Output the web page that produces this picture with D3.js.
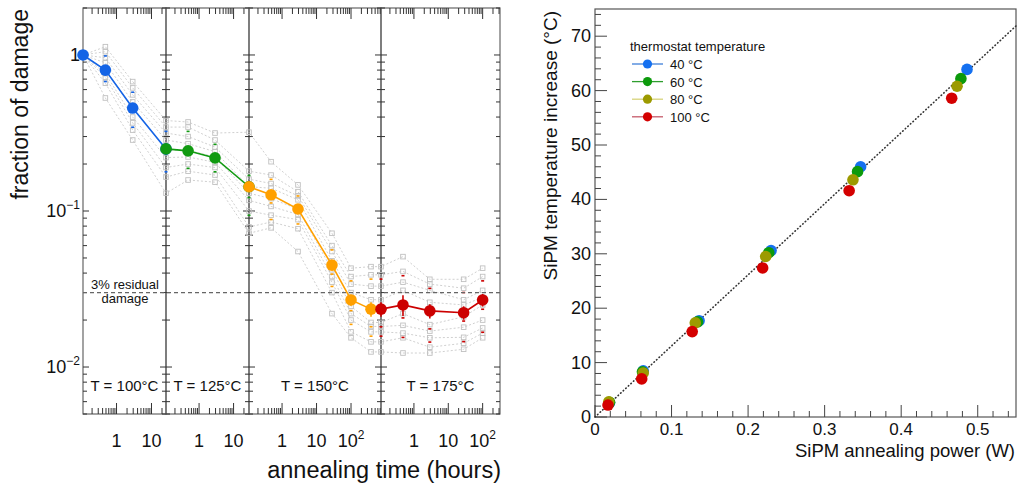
<!DOCTYPE html>
<html><head><meta charset="utf-8">
<script src="https://cdn.jsdelivr.net/npm/d3@7"></script>
<style>
body{margin:0;background:#fff}
svg{display:block}
text{font-family:"Liberation Sans",Arial,Helvetica,sans-serif;fill:#111}
</style>
</head><body>
<svg id="c" width="1017" height="490"></svg>
<script>
// ---------------- LEFT CHART DATA ----------------
const panelLabels = ["T = 100°C", "T = 125°C", "T = 150°C", "T = 175°C"];
const panelTimeMin = [0.11, 0.11, 0.11, 0.11];
const panelTimeMax = [26, 28, 740, 320];
const panelTickValues = [[1, 10], [1, 10], [1, 10, 100], [1, 10, 100]];
const yDomainLeft = [0.005, 2];
const yTickValuesLeft = [1, 0.1, 0.01];
const residualLevel = 0.03;

const blueTimes = [0.11, 0.48, 2.9, 26];
const blueMeans = [1.0, 0.80, 0.457, 0.25];
const blueErrs = [0.01, 0.03, 0.02, 0.01];
const greenTimes = [0.11, 0.48, 2.9, 28];
const greenMeans = [0.25, 0.243, 0.219, 0.143];
const greenErrs = [0.01, 0.01, 0.01, 0.008];
const orangeTimes = [0.11, 0.48, 2.9, 28, 100, 380];
const orangeMeans = [0.143, 0.127, 0.103, 0.045, 0.0269, 0.0235];
const orangeErrs = [0.005, 0.004, 0.003, 0.002, 0.0022, 0.0025];
const redTimes = [0.11, 0.48, 2.9, 28, 100];
const redMeans = [0.0235, 0.025, 0.0229, 0.0223, 0.0269];
const redErrs = [0.0025, 0.0038, 0.0024, 0.0022, 0.0025];

// individual sensors: one column per measurement step
const sensorColPanel = [0,0,0,0, 1,1,1, 2,2,2,2,2, 3,3,3,3,3];
const sensorColTime  = [0.11,0.48,2.9,26, 0.48,2.9,28, 0.48,2.9,28,100,380, 0.11,0.48,2.9,28,100];
const sensorValues = [
  [1,1,1,1,1,1,1,1,1],
  [1.13,1.05,0.96,0.89,0.80,0.76,0.72,0.66,0.53],
  [0.675,0.615,0.555,0.50,0.464,0.40,0.367,0.33,0.285],
  [0.38,0.345,0.316,0.285,0.246,0.22,0.19,0.165,0.13],
  [0.372,0.345,0.30,0.27,0.245,0.222,0.20,0.18,0.158],
  [0.316,0.285,0.257,0.24,0.222,0.205,0.19,0.17,0.153],
  [0.32,0.18,0.16,0.143,0.13,0.117,0.10,0.079,0.072],
  [0.207,0.17,0.15,0.14,0.12,0.107,0.094,0.085,0.078],
  [0.147,0.133,0.125,0.118,0.103,0.095,0.088,0.077,0.055],
  [0.072,0.060,0.055,0.048,0.042,0.038,0.035,0.030,0.022],
  [0.043,0.038,0.034,0.030,0.0245,0.022,0.020,0.0168,0.0154],
  [0.044,0.039,0.033,0.027,0.0193,0.0182,0.0168,0.0145,0.0125],
  [0.044,0.039,0.033,0.027,0.0193,0.0182,0.0168,0.0145,0.0125],
  [0.051,0.041,0.035,0.031,0.022,0.0185,0.0165,0.0154,0.0123],
  [0.0365,0.034,0.031,0.026,0.0187,0.017,0.0154,0.0134,0.0123],
  [0.0365,0.032,0.027,0.025,0.021,0.018,0.0155,0.0142,0.013],
  [0.043,0.038,0.031,0.028,0.025,0.020,0.0178,0.0165,0.0154]
];
const sensorMarkIdx = [1, 4, 6];

// ---------------- RIGHT CHART DATA ----------------
const thermoLabels = ["40 °C", "60 °C", "80 °C", "100 °C"];
const power40 = [0.019, 0.063, 0.136, 0.230, 0.347, 0.486];
const temp40  = [2.6, 8.5, 17.7, 30.6, 46.0, 63.9];
const power60 = [0.019, 0.062, 0.134, 0.227, 0.343, 0.478];
const temp60  = [2.7, 8.3, 17.5, 30.2, 45.1, 62.2];
const power80 = [0.018, 0.063, 0.131, 0.223, 0.337, 0.473];
const temp80  = [2.8, 8.1, 17.3, 29.5, 43.6, 60.8];
const power100 = [0.017, 0.061, 0.127, 0.219, 0.332, 0.466];
const temp100  = [2.2, 7.0, 15.7, 27.4, 41.6, 58.6];
const fitSlope = 130.7;
const xDomainRight = [0, 0.55];
const yDomainRight = [0, 75];
const xTicksRight = [0, 0.1, 0.2, 0.3, 0.4, 0.5];
const yTicksRight = [0, 10, 20, 30, 40, 50, 60, 70];

// ---------------- DRAW ----------------
const svg = d3.select("#c");

// ===== LEFT =====
const edges = [83, 166, 249, 381, 500];
const LT = 8, LB = 414;
const yL = d3.scaleLog().domain(yDomainLeft).range([LB, LT]);
const xs = panelLabels.map((_, i) =>
  d3.scaleLog().domain([panelTimeMin[i], panelTimeMax[i]]).range([edges[i], edges[i + 1]]));

const seriesColors = ["#1464e6", "#119a11", "#ffa000", "#cc0000"];
const series = [
  {p: 0, t: blueTimes, v: blueMeans, e: blueErrs},
  {p: 1, t: greenTimes, v: greenMeans, e: greenErrs},
  {p: 2, t: orangeTimes, v: orangeMeans, e: orangeErrs},
  {p: 3, t: redTimes, v: redMeans, e: redErrs}
];

const gL = svg.append("g");

panelLabels.forEach((_, i) => {
  gL.append("rect").attr("x", edges[i]).attr("y", LT)
    .attr("width", edges[i + 1] - edges[i]).attr("height", LB - LT)
    .attr("fill", "none").attr("stroke", "#666").attr("stroke-width", 1.2);
});

function logTicks(lo, hi) {
  const out = [];
  for (let e = -4; e <= 4; e++) {
    const dec = Math.pow(10, e);
    for (let k = 1; k <= 9; k++) {
      const v = k * dec;
      if (v >= lo * 0.9999 && v <= hi * 1.0001) out.push({v, major: k === 1});
    }
  }
  return out;
}

const yT = logTicks(yDomainLeft[0], yDomainLeft[1]);
panelLabels.forEach((_, i) => {
  const xl = edges[i], xr = edges[i + 1];
  yT.forEach(t => {
    const len = t.major ? 6 : 4;
    const yy = yL(t.v);
    gL.append("line").attr("x1", xl).attr("x2", xl + len).attr("y1", yy).attr("y2", yy)
      .attr("stroke", "#333").attr("stroke-width", 1);
    gL.append("line").attr("x1", xr).attr("x2", xr - len).attr("y1", yy).attr("y2", yy)
      .attr("stroke", "#333").attr("stroke-width", 1);
  });
});

xs.forEach((sc, i) => {
  const d = sc.domain();
  logTicks(d[0], d[1]).forEach(t => {
    const xx = sc(t.v);
    if (xx <= edges[i] + 0.5 || xx >= edges[i + 1] - 0.5) return;
    const len = t.major ? 11 : 6;
    gL.append("line").attr("x1", xx).attr("x2", xx).attr("y1", LB).attr("y2", LB - len)
      .attr("stroke", "#333").attr("stroke-width", 1);
    gL.append("line").attr("x1", xx).attr("x2", xx).attr("y1", LT).attr("y2", LT + len)
      .attr("stroke", "#333").attr("stroke-width", 1);
  });
  panelTickValues[i].forEach(v => {
    const tx = gL.append("text").attr("x", sc(v)).attr("y", 447)
      .attr("text-anchor", "middle").attr("font-size", 18);
    if (v < 50) tx.text(String(v));
    else {
      tx.append("tspan").text("10");
      tx.append("tspan").attr("dy", -8).attr("font-size", 12).text(String(Math.round(Math.log10(v))));
    }
  });
});

yTickValuesLeft.forEach(v => {
  const tx = gL.append("text").attr("x", 80).attr("y", yL(v) + 6)
    .attr("text-anchor", "end").attr("font-size", 18);
  if (v === 1) tx.text("1");
  else {
    tx.append("tspan").text("10");
    tx.append("tspan").attr("dy", -8).attr("font-size", 12).text("\u2212" + Math.round(-Math.log10(v)));
  }
});

const colX = sensorColTime.map((t, j) => xs[sensorColPanel[j]](t));
const nSensors = sensorValues[0].length;
const sensLine = d3.line().x(d => d[0]).y(d => d[1]);
for (let s = 0; s < nSensors; s++) {
  const pts = sensorValues.map((col, j) => [colX[j], yL(col[s])]);
  gL.append("path").attr("d", sensLine(pts)).attr("fill", "none")
    .attr("stroke", "#c4c4c4").attr("stroke-width", 0.8).attr("stroke-dasharray", "2,2");
}
sensorValues.forEach((col, j) => {
  if (j === 0) return;
  col.forEach(v => {
    gL.append("rect").attr("x", colX[j] - 2.3).attr("y", yL(v) - 2.3)
      .attr("width", 4.6).attr("height", 4.6).attr("fill", "none")
      .attr("stroke", "#c0c0c0").attr("stroke-width", 0.9);
  });
  sensorMarkIdx.forEach(k => {
    gL.append("rect").attr("x", colX[j] - 1.5).attr("y", yL(col[k]) + 3.5)
      .attr("width", 3).attr("height", 1.6).attr("fill", seriesColors[sensorColPanel[j]]);
  });
});

gL.append("line").attr("x1", edges[0]).attr("x2", edges[4])
  .attr("y1", yL(residualLevel)).attr("y2", yL(residualLevel))
  .attr("stroke", "#666").attr("stroke-width", 1.2).attr("stroke-dasharray", "4,3");
gL.append("text").attr("x", 125).attr("y", yL(residualLevel) - 4)
  .attr("text-anchor", "middle").attr("font-size", 13).text("3% residual");
gL.append("text").attr("x", 125).attr("y", yL(residualLevel) + 10)
  .attr("text-anchor", "middle").attr("font-size", 13).text("damage");

series.forEach((s, i) => {
  const sc = xs[s.p];
  const pts = s.t.map((t, k) => [sc(t), yL(s.v[k])]);
  gL.append("path").attr("d", d3.line()(pts)).attr("fill", "none")
    .attr("stroke", seriesColors[i]).attr("stroke-width", 1.6);
  s.t.forEach((t, k) => {
    const xx = sc(t);
    gL.append("line").attr("x1", xx).attr("x2", xx)
      .attr("y1", yL(s.v[k] + s.e[k])).attr("y2", yL(s.v[k] - s.e[k]))
      .attr("stroke", seriesColors[i]).attr("stroke-width", 1.6);
  });
  s.t.forEach((t, k) => {
    gL.append("circle").attr("cx", sc(t)).attr("cy", yL(s.v[k])).attr("r", 5.8)
      .attr("fill", seriesColors[i]);
  });
});

panelLabels.forEach((lab, i) => {
  gL.append("text").attr("x", (edges[i] + edges[i + 1]) / 2).attr("y", 391)
    .attr("text-anchor", "middle").attr("font-size", 15).text(lab);
});

gL.append("text").attr("transform", "translate(28,9) rotate(-90)")
  .attr("text-anchor", "end").attr("font-size", 23).text("fraction of damage");
gL.append("text").attr("x", 501).attr("y", 478)
  .attr("text-anchor", "end").attr("font-size", 23.5).text("annealing time (hours)");

// ===== RIGHT =====
const RL = 595, RR = 1016, RT = 9, RB = 417;
const xR = d3.scaleLinear().domain(xDomainRight).range([RL, RR]);
const yR = d3.scaleLinear().domain(yDomainRight).range([RB, RT]);
const gR = svg.append("g");

gR.append("rect").attr("x", RL).attr("y", RT).attr("width", RR - RL).attr("height", RB - RT)
  .attr("fill", "none").attr("stroke", "#555").attr("stroke-width", 1.2);

d3.range(0, 75, 2).forEach(v => {
  const major = v % 10 === 0;
  gR.append("line").attr("x1", RL).attr("x2", RL + (major ? 12 : 6))
    .attr("y1", yR(v)).attr("y2", yR(v)).attr("stroke", "#444").attr("stroke-width", 1);
});
yTicksRight.forEach(v => {
  gR.append("text").attr("x", 591).attr("y", yR(v) + 6).attr("text-anchor", "end")
    .attr("font-size", 18).text(String(v));
});
d3.range(0, 28).map(k => k * 0.02).forEach((v, k) => {
  if (v > xDomainRight[1]) return;
  const major = k % 5 === 0;
  gR.append("line").attr("x1", xR(v)).attr("x2", xR(v))
    .attr("y1", RB).attr("y2", RB - (major ? 12 : 6)).attr("stroke", "#444").attr("stroke-width", 1);
});
xTicksRight.forEach(v => {
  gR.append("text").attr("x", xR(v)).attr("y", 435).attr("text-anchor", "middle")
    .attr("font-size", 17).text(v === 0 ? "0" : v.toFixed(1));
});

gR.append("line").attr("x1", xR(0)).attr("y1", yR(0))
  .attr("x2", xR(xDomainRight[1])).attr("y2", yR(fitSlope * xDomainRight[1]))
  .attr("stroke", "#333").attr("stroke-width", 1.6).attr("stroke-linecap", "round")
  .attr("stroke-dasharray", "0.5,3");

const markerColors = ["#1470f0", "#0c9a0c", "#9c9a00", "#d40000"];
const legendLineColors = ["#3f7fd8", "#2e9e2e", "#d6d27a", "#c65a6a"];
const rSeries = [[power40, temp40], [power60, temp60], [power80, temp80], [power100, temp100]];
rSeries.forEach((s, i) => {
  s[0].forEach((p, k) => {
    gR.append("circle").attr("cx", xR(p)).attr("cy", yR(s[1][k])).attr("r", 5.8)
      .attr("fill", markerColors[i]);
  });
});

gR.append("text").attr("x", 630).attr("y", 51).attr("font-size", 13).text("thermostat temperature");
thermoLabels.forEach((lab, i) => {
  const yy = 64 + i * 17.6;
  gR.append("line").attr("x1", 632).attr("x2", 663).attr("y1", yy).attr("y2", yy)
    .attr("stroke", legendLineColors[i]).attr("stroke-width", 1.3);
  gR.append("circle").attr("cx", 647.5).attr("cy", yy).attr("r", 4.6).attr("fill", markerColors[i]);
  gR.append("text").attr("x", 670).attr("y", yy + 5).attr("font-size", 13).text(lab);
});

gR.append("text").attr("transform", "translate(557,11) rotate(-90)")
  .attr("text-anchor", "end").attr("font-size", 19).text("SiPM temperature increase (°C)");
gR.append("text").attr("x", 1015).attr("y", 457).attr("text-anchor", "end")
  .attr("font-size", 18.5).text("SiPM annealing power (W)");
</script>
</body></html>
